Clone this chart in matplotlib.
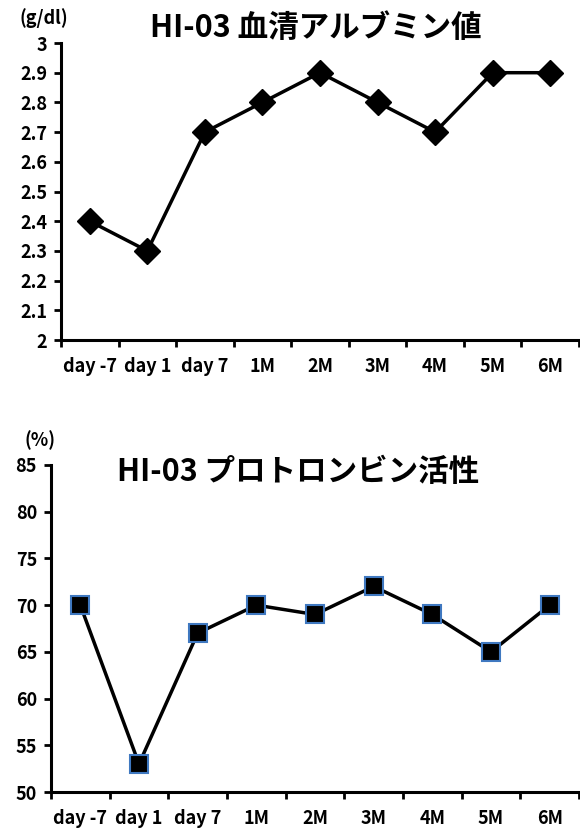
import matplotlib
matplotlib.use("Agg")
import matplotlib.pyplot as plt
import numpy as np

plt.rcParams['font.family'] = ['Noto Sans CJK JP', 'DejaVu Sans']

categories = ["day -7", "day 1", "day 7", "1M", "2M", "3M", "4M", "5M", "6M"]
albumin = [2.4, 2.3, 2.7, 2.8, 2.9, 2.8, 2.7, 2.9, 2.9]
prothrombin = [70, 53, 67, 70, 69, 72, 69, 65, 70]
alb_ticks = [2, 2.1, 2.2, 2.3, 2.4, 2.5, 2.6, 2.7, 2.8, 2.9, 3]
alb_ticklabels = ["2", "2.1", "2.2", "2.3", "2.4", "2.5", "2.6", "2.7", "2.8", "2.9", "3"]
pt_ticks = [50, 55, 60, 65, 70, 75, 80, 85]

W, H = 580, 833
fig = plt.figure(figsize=(W/100, H/100), dpi=100)

def setup(ax, ylim, yticks, yticklabels):
    n = len(categories)
    x = np.arange(n)
    ax.set_xlim(-0.5, n - 0.5)
    ax.set_ylim(*ylim)
    ax.set_xticks(x)
    ax.set_xticklabels(categories, fontsize=13, fontweight='bold')
    ax.set_xticks(np.arange(n + 1) - 0.5, minor=True)
    ax.tick_params(axis='x', which='major', length=0, pad=12)
    ax.tick_params(axis='x', which='minor', length=5, width=2, direction='out')
    ax.set_yticks(yticks)
    ax.set_yticklabels(yticklabels, fontsize=13, fontweight='bold')
    ax.tick_params(axis='y', length=5, width=2, direction='out', pad=5)
    for s in ['top', 'right']:
        ax.spines[s].set_visible(False)
    for s in ['left', 'bottom']:
        ax.spines[s].set_linewidth(2.2)
        ax.spines[s].set_color('black')
    return x

# Top chart
ax1 = fig.add_axes([61/W, 1 - 340/H, (579 - 61)/W, (340 - 43)/H])
x = setup(ax1, (2, 3), alb_ticks, alb_ticklabels)
ax1.plot(x, albumin, color='black', lw=2.5, marker='D', markersize=13,
         markerfacecolor='black', markeredgecolor='black', clip_on=False)
fig.text(316/W, 1 - 28/H, "HI-03 血清アルブミン値", fontsize=22, fontweight='bold',
         ha='center', va='center')
fig.text(44/W, 1 - 18/H, "(g/dl)", fontsize=13, fontweight='bold', ha='center', va='center')

# Bottom chart
ax2 = fig.add_axes([51/W, 1 - 792/H, (579 - 51)/W, (792 - 465)/H])
x = setup(ax2, (50, 85), pt_ticks, [str(t) for t in pt_ticks])
ax2.plot(x, prothrombin, color='black', lw=2.5, marker='s', markersize=13,
         markerfacecolor='black', markeredgecolor='#3f78c0', markeredgewidth=1.5, clip_on=False)
fig.text(298/W, 1 - 472/H, "HI-03 プロトロンビン活性", fontsize=22, fontweight='bold',
         ha='center', va='center')
fig.text(40/W, 1 - 440/H, "(%)", fontsize=13, fontweight='bold', ha='center', va='center')

fig.savefig("out.png", dpi=100)
